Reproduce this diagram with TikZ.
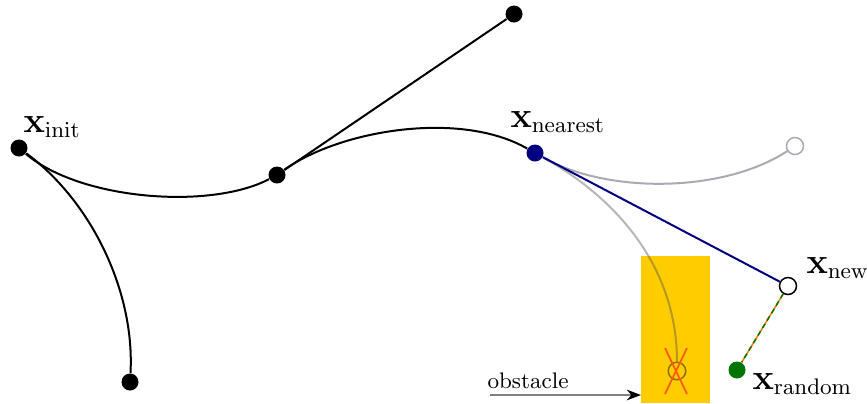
\documentclass[tikz,border=0pt]{standalone}
\usepackage{tikz}
\usetikzlibrary{arrows.meta}
\definecolor{treenavy}{RGB}{0,0,128}
\definecolor{randgreen}{RGB}{0,115,0}
\definecolor{obstyellow}{RGB}{255,204,0}
\definecolor{dropgray}{RGB}{170,170,180}
\definecolor{crossred}{RGB}{255,90,20}
\tikzstyle{vertex} = [circle, fill=black, inner sep=0pt, minimum size=6.8pt]
\tikzstyle{hollow} = [circle, draw=black, fill=white, line width=0.6pt, inner sep=0pt, minimum size=6.8pt]
\tikzstyle{edge} = [line width=0.8pt]
\tikzstyle{dropped} = [line width=0.8pt, draw=dropgray]
\tikzstyle{xlabel} = [font=\fontsize{13.4}{16}\selectfont, anchor=west, inner sep=0pt]
\tikzstyle{arrow} = [-{Stealth[black]}]

\begin{document}
\begin{tikzpicture}[x=0.4pt, y=-0.4pt]
\useasboundingbox (0,0) rectangle (867,403);

\fill [obstyellow] (641,256) rectangle (710,403);

\node (init) [vertex] at (19,148) {};
\node (mid) [vertex] at (277,175) {};
\node (top) [vertex] at (514,14) {};
\node (low) [vertex] at (130,382) {};
\node (near) [vertex, fill=treenavy] at (535,153) {};
\node (side) [hollow, draw=dropgray] at (795,146) {};
\node (new) [hollow] at (788,286) {};
\node (rand) [vertex, fill=randgreen] at (737,370) {};
\node (hit) [circle, draw=black, opacity=0.45, line width=0.6pt, inner sep=0pt, minimum size=7pt] at (677,371) {};

% tree edges
\draw [edge] (init) .. controls (80,200) and (210,210) .. (mid);
\draw [edge] (init) .. controls (90,200) and (135,290) .. (low);
\draw [edge] (mid) -- (top);
\draw [edge] (mid) .. controls (340,130) and (460,110) .. (near);

% rejected extensions
\draw [dropped] (near) .. controls (610,195) and (725,192) .. (side);
\draw [line width=0.8pt, draw=black!70, opacity=0.4] (near) .. controls (620,200) and (677,270) .. (hit);
\draw [line width=0.7pt, draw=crossred] (665,348) -- (687,394);
\draw [line width=0.7pt, draw=crossred] (687,348) -- (665,394);

% new branch
\draw [edge, draw=treenavy] (near) -- (new);
\draw [line width=0.6pt, draw=orange] (new) -- (rand);
\draw [line width=0.6pt, draw=randgreen, dash pattern=on 2pt off 1.5pt] (new) -- (rand);

% obstacle pointer
\coordinate (ptr) at (490,395);
\coordinate (obst) at (641,395);
\draw [arrow, draw=gray, line width=0.6pt] (ptr) -- (obst);
\node (obstlabel) [anchor=base west, font=\small, inner sep=0pt] at (487,388) {obstacle};

% labels
\node (linit) [xlabel] at (23,127) {$\mathbf{x}_{\mathrm{init}}$};
\node (lnear) [xlabel] at (510,122) {$\mathbf{x}_{\mathrm{nearest}}$};
\node (lnew) [xlabel] at (806,268) {$\mathbf{x}_{\mathrm{new}}$};
\node (lrand) [xlabel] at (752,384) {$\mathbf{x}_{\mathrm{random}}$};
\end{tikzpicture}
\end{document}
